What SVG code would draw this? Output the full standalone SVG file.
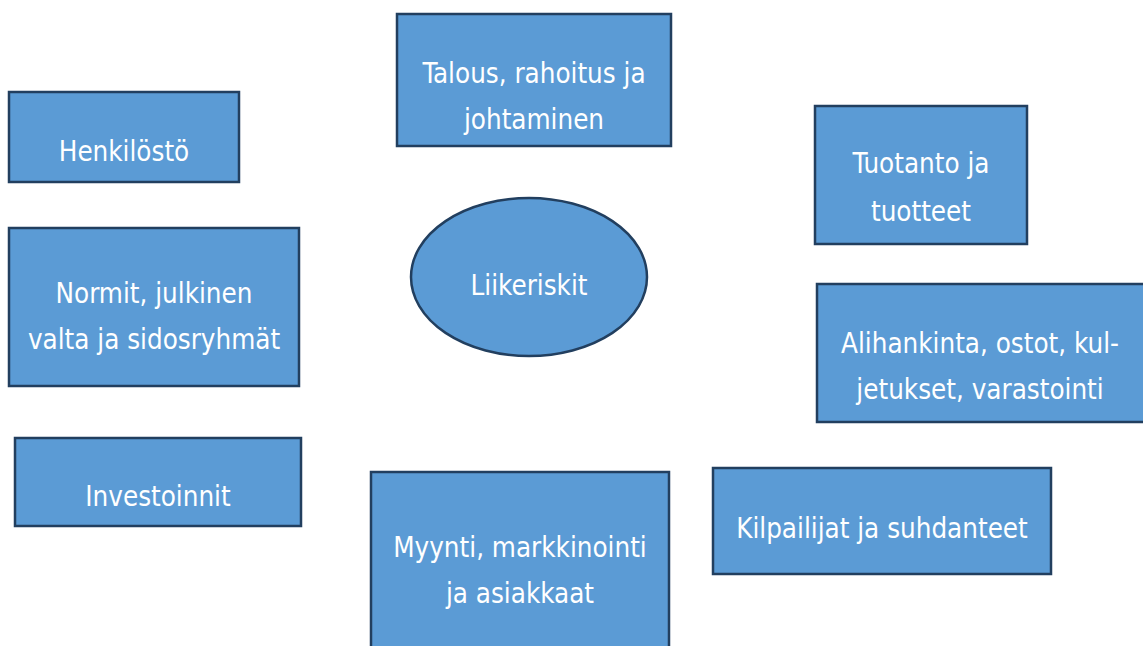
<svg xmlns="http://www.w3.org/2000/svg" width="1143" height="646" viewBox="0 0 1143 646">
<style>
.box{fill:#5B9BD5;stroke:#223F5F;stroke-width:2.5}
.t{font-family:"DejaVu Sans Condensed","DejaVu Sans","Liberation Sans",sans-serif;font-stretch:condensed;font-size:27.5px;fill:#FFFFFF;text-anchor:middle}
</style>
<rect x="0" y="0" width="1143" height="646" fill="#FFFFFF"/>
<g id="connectors"></g>
<g id="center">
<ellipse class="box" cx="529" cy="277" rx="118" ry="79"/>
<text class="t" x="529" y="295">Liikeriskit</text>
</g>
<g id="talous">
<rect class="box" x="397" y="14" width="274" height="132"/>
<text class="t" x="534" y="83">Talous, rahoitus ja</text>
<text class="t" x="534" y="129">johtaminen</text>
</g>
<g id="henkilosto">
<rect class="box" x="9" y="92" width="230" height="90"/>
<text class="t" x="124" y="161">Henkilöstö</text>
</g>
<g id="normit">
<rect class="box" x="9" y="228" width="290" height="158"/>
<text class="t" x="154" y="303">Normit, julkinen</text>
<text class="t" x="154" y="349">valta ja sidosryhmät</text>
</g>
<g id="investoinnit">
<rect class="box" x="15" y="438" width="286" height="88"/>
<text class="t" x="158" y="506">Investoinnit</text>
</g>
<g id="myynti">
<rect class="box" x="371" y="472" width="298" height="190"/>
<text class="t" x="520" y="557">Myynti, markkinointi</text>
<text class="t" x="520" y="603">ja asiakkaat</text>
</g>
<g id="kilpailijat">
<rect class="box" x="713" y="468" width="338" height="106"/>
<text class="t" x="882" y="538">Kilpailijat ja suhdanteet</text>
</g>
<g id="alihankinta">
<rect class="box" x="817" y="284" width="340" height="138"/>
<text class="t" x="980" y="353">Alihankinta, ostot, kul-</text>
<text class="t" x="980" y="399">jetukset, varastointi</text>
</g>
<g id="tuotanto">
<rect class="box" x="815" y="106" width="212" height="138"/>
<text class="t" x="921" y="173">Tuotanto ja</text>
<text class="t" x="921" y="221">tuotteet</text>
</g>
</svg>
